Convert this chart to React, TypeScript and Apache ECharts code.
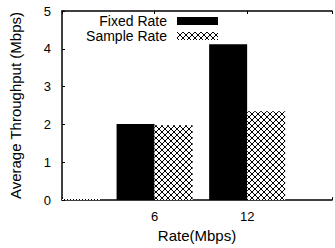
import React, { useEffect, useRef } from "react";
import * as echarts from "echarts";

const rates = [0, 6, 12];
const fixedRate = [0, 2.01, 4.12];
const sampleRate = [0.03, 1.98, 2.35];
const xTickLabels: Record<number, string> = { 0: "", 6: "6", 12: "12" };
const seriesNames = ["Fixed Rate", "Sample Rate"];

function makePattern(): HTMLCanvasElement {
  const c = document.createElement("canvas");
  c.width = 6;
  c.height = 6;
  const ctx = c.getContext("2d")!;
  ctx.fillStyle = "#ffffff";
  ctx.fillRect(0, 0, 6, 6);
  ctx.strokeStyle = "#000000";
  ctx.lineWidth = 1;
  ctx.beginPath();
  ctx.moveTo(0, 0);
  ctx.lineTo(6, 6);
  ctx.moveTo(6, 0);
  ctx.lineTo(0, 6);
  ctx.stroke();
  ctx.fillStyle = "#000";
  ctx.fillRect(2.5, 2.5, 1, 1);
  return c;
}

export default function App() {
  const ref = useRef<HTMLDivElement>(null);
  useEffect(() => {
    if (!ref.current) return;
    const chart = echarts.init(ref.current, undefined, { renderer: "svg" });
    const pattern = makePattern();
    const font = "Liberation Sans";
    const legendCommon = {
      right: 117,
      align: "right",
      itemWidth: 41,
      itemHeight: 8,
      icon: "rect",
      padding: 0,
      formatter: (name: string) => "{a|" + name + "}",
      textStyle: {
        fontFamily: font,
        fontSize: 14,
        lineHeight: 14,
        color: "#000",
        rich: {
          a: {
            fontFamily: font,
            fontSize: 14,
            lineHeight: 14,
            color: "#000",
            padding: [0, 5, 0, 0],
          },
        },
      },
    };
    chart.setOption({
      animation: false,
      textStyle: { fontFamily: font },
      grid: { left: 59, top: 11, right: 0, bottom: 46 },
      legend: [
        { ...legendCommon, data: [seriesNames[0]], top: 14 },
        { ...legendCommon, data: [seriesNames[1]], top: 29 },
      ],
      xAxis: [
        {
          type: "value",
          min: 0,
          max: 17.5,
          interval: 6,
          position: "bottom",
          name: "Rate(Mbps)",
          nameLocation: "middle",
          nameGap: 23,
          nameTextStyle: { fontFamily: font, fontSize: 15, color: "#000" },
          axisLine: { show: true, onZero: false, lineStyle: { color: "#000", width: 1.5 } },
          axisTick: { show: true, inside: true, length: 3, lineStyle: { color: "#000" } },
          axisLabel: {
            fontFamily: font,
            fontSize: 13,
            color: "#000",
            margin: 10,
            formatter: (v: number) => xTickLabels[v] ?? "",
          },
          splitLine: { show: false },
        },
        {
          type: "value",
          min: 0,
          max: 17.5,
          interval: 6,
          position: "top",
          axisLine: { show: true, onZero: false, lineStyle: { color: "#000", width: 1.5 } },
          axisTick: { show: true, inside: true, length: 3, lineStyle: { color: "#000" } },
          axisLabel: { show: false },
          splitLine: { show: false },
        },
      ],
      yAxis: {
        type: "value",
        min: 0,
        max: 5,
        interval: 1,
        name: "Average Throughput (Mbps)",
        nameLocation: "middle",
        nameGap: 39,
        nameTextStyle: { fontFamily: font, fontSize: 15, color: "#000" },
        axisLine: { show: true, lineStyle: { color: "#000", width: 1.5 } },
        axisTick: { show: true, inside: true, length: 3, lineStyle: { color: "#000" } },
        axisLabel: { fontFamily: font, fontSize: 13, color: "#000", margin: 11 },
        splitLine: { show: false },
      },
      series: [
        {
          name: seriesNames[0],
          type: "bar",
          barWidth: 38,
          barGap: "0%",
          data: rates.map((r, i) => [r, fixedRate[i]]),
          itemStyle: { color: "#000" },
        },
        {
          name: seriesNames[1],
          type: "bar",
          barWidth: 38,
          barGap: "0%",
          data: rates.map((r, i) => [r, sampleRate[i]]),
          itemStyle: { color: { image: pattern, repeat: "repeat" } },
        },
      ],
    });
    return () => chart.dispose();
  }, []);
  return (
    <div
      ref={ref}
      style={{ position: "fixed", left: 0, top: 0, width: 335, height: 248, background: "#fff" }}
    />
  );
}
